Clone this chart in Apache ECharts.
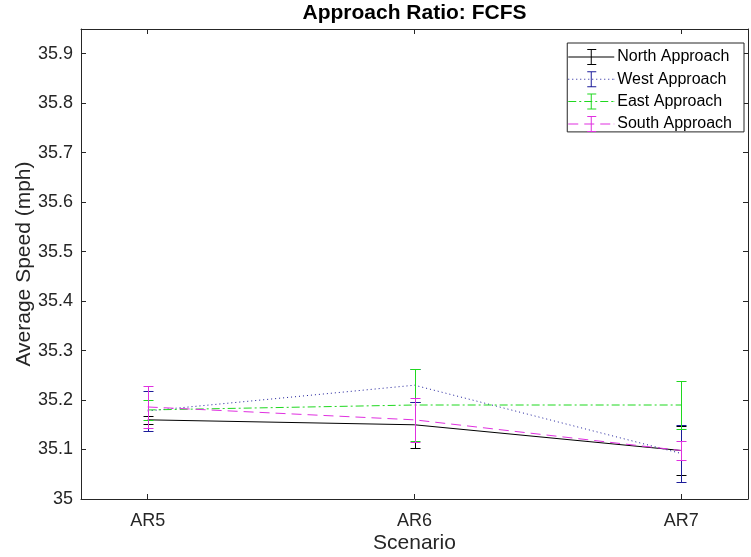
<!DOCTYPE html>
<html><head><meta charset="utf-8">
<script src="https://cdn.jsdelivr.net/npm/echarts@6/dist/echarts.min.js"></script>
<style>html,body{margin:0;padding:0;background:#fff}#c{width:751px;height:557px}</style>
</head><body><div id="c"></div>
<script>
const categories = ['AR5', 'AR6', 'AR7'];
const xPositions = [1, 2, 3];
const yTicks = [35, 35.1, 35.2, 35.3, 35.4, 35.5, 35.6, 35.7, 35.8, 35.9];
const seriesNames = ['North Approach', 'West Approach', 'East Approach', 'South Approach'];
const northMean = [35.160, 35.150, 35.098];
const northErr  = [0.008, 0.047, 0.050];
const westMean  = [35.178, 35.230, 35.092];
const westErr   = [0.040, 0.033, 0.057];
const eastMean  = [35.180, 35.190, 35.190];
const eastErr   = [0.020, 0.072, 0.048];
const southMean = [35.186, 35.160, 35.098];
const southErr  = [0.042, 0.045, 0.019];

const FONT = 'Liberation Sans, Arial, sans-serif';
const AX = '#262626';
const colors = ['#000000', '#1c1c9a', '#1fd81f', '#e030e0'];
const dashes = ['solid', [1, 3], [8, 3, 2, 3], [10, 6]];
const means = [northMean, westMean, eastMean, southMean];
const errs = [northErr, westErr, eastErr, southErr];

// legend icon: line pattern + error bar glyph, as filled rectangles
function legendIcon(pattern) {
  const W = 46, H = 16, cy = 7.5;
  let p = '';
  const rect = (x, y, w, h) => { p += 'M' + x + ',' + y + 'h' + w + 'v' + h + 'h' + (-w) + 'Z'; };
  if (pattern === 'solid') rect(0, cy, W, 1);
  else {
    let x = 0, i = 0;
    while (x < W) {
      const on = pattern[i % pattern.length], off = pattern[(i + 1) % pattern.length];
      rect(x, cy, Math.min(on, W - x), 1);
      x += on + off; i += 2;
    }
    rect(W - 0.5, cy, 0.5, 1);
  }
  rect(22.5, 0, 1, H);
  rect(19, 0, 9, 1);
  rect(19, H - 1, 9, 1);
  return 'path://' + p;
}

function errRenderer(color) {
  return function (params, api) {
    const x = api.value(0), lo = api.value(1), hi = api.value(2);
    const pLo = api.coord([x, lo]), pHi = api.coord([x, hi]);
    const cx = Math.round(pLo[0]) + 0.5;
    const yl = Math.round(pLo[1]) + 0.5, yh = Math.round(pHi[1]) + 0.5;
    const hw = 5;
    const st = { stroke: color, lineWidth: 1, fill: null };
    return { type: 'group', children: [
      { type: 'line', shape: { x1: cx, y1: yh, x2: cx, y2: yl }, style: st },
      { type: 'line', shape: { x1: cx - hw, y1: yh, x2: cx + hw, y2: yh }, style: st },
      { type: 'line', shape: { x1: cx - hw, y1: yl, x2: cx + hw, y2: yl }, style: st }
    ]};
  };
}

const series = [];
seriesNames.forEach((name, k) => {
  series.push({
    name: name, type: 'line', xAxisIndex: 0, yAxisIndex: 0,
    data: xPositions.map((x, i) => [x, means[k][i]]),
    showSymbol: false, symbol: 'none',
    lineStyle: { color: colors[k], width: 1, type: dashes[k] },
    itemStyle: { color: colors[k] },
    z: 2 + k * 2, animation: false
  });
  series.push({
    name: name, type: 'custom', xAxisIndex: 0, yAxisIndex: 0,
    data: xPositions.map((x, i) => [x, means[k][i] - errs[k][i], means[k][i] + errs[k][i]]),
    encode: { x: 0, y: [1, 2] },
    renderItem: errRenderer(colors[k]),
    itemStyle: { color: colors[k] },
    z: 3 + k * 2, animation: false, silent: true
  });
});

const axisCommon = {
  axisLine: { show: true, onZero: false, lineStyle: { color: AX, width: 1 } },
  splitLine: { show: false }
};

const chart = echarts.init(document.getElementById('c'), null, { renderer: 'canvas' });
chart.setOption({
  animation: false,
  backgroundColor: '#ffffff',
  title: {
    text: 'Approach Ratio: FCFS', left: 414.5, top: 3, padding: 0, textAlign: 'center',
    textStyle: { fontFamily: FONT, fontWeight: 'bold', fontSize: 21, color: '#000' }
  },
  legend: {
    orient: 'vertical', right: 7, top: 43,
    backgroundColor: '#fff', borderColor: AX, borderWidth: 1, borderRadius: 0,
    padding: [6, 12, 0, 1],
    itemWidth: 46, itemHeight: 16, itemGap: 6.3,
    textStyle: { fontFamily: FONT, fontSize: 16, color: '#000', padding: [0, 0, 0, -2] },
    data: seriesNames.map((n, k) => ({ name: n, icon: legendIcon(dashes[k]), itemStyle: { color: colors[k] } })),
    selectedMode: false
  },
  grid: { left: 81, right: 3, top: 29, bottom: 58, containLabel: false, outerBoundsMode: 'none' },
  xAxis: [
    Object.assign({}, axisCommon, {
      type: 'value', min: 0.75, max: 3.25, position: 'bottom',
      axisTick: { show: true, inside: true, length: 5, customValues: xPositions, lineStyle: { color: AX } },
      axisLabel: { customValues: xPositions, formatter: v => categories[Math.round(v) - 1], fontFamily: FONT, fontSize: 18, color: AX, margin: 13 },
      name: 'Scenario', nameLocation: 'middle', nameGap: 34, nameMoveOverlap: false,
      nameTextStyle: { fontFamily: FONT, fontSize: 21, color: AX }
    }),
    Object.assign({}, axisCommon, {
      type: 'value', min: 0.75, max: 3.25, position: 'top',
      axisTick: { show: true, inside: true, length: 5, customValues: xPositions, lineStyle: { color: AX } },
      axisLabel: { show: false }
    })
  ],
  yAxis: [
    Object.assign({}, axisCommon, {
      type: 'value', min: 35, max: 35.95, position: 'left',
      axisTick: { show: true, inside: true, length: 5, customValues: yTicks, lineStyle: { color: AX } },
      axisLabel: { customValues: yTicks, formatter: v => String(+v.toFixed(2)), fontFamily: FONT, fontSize: 18, color: AX, margin: 8 },
      name: 'Average Speed (mph)', nameLocation: 'middle', nameGap: 46, nameRotate: 90, nameMoveOverlap: false,
      nameTextStyle: { fontFamily: FONT, fontSize: 21, color: AX }
    }),
    Object.assign({}, axisCommon, {
      type: 'value', min: 35, max: 35.95, position: 'right',
      axisTick: { show: true, inside: true, length: 5, customValues: yTicks, lineStyle: { color: AX } },
      axisLabel: { show: false }
    })
  ],
  series: series
});
</script>
</body></html>
